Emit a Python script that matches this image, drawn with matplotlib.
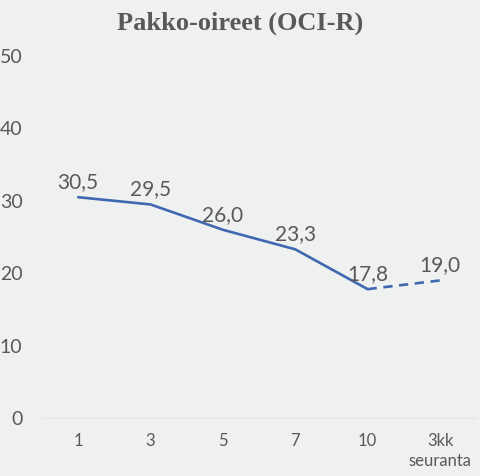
import matplotlib.pyplot as plt

categories = ["1", "3", "5", "7", "10", "3kk\nseuranta"]
values = [30.5, 29.5, 26.0, 23.3, 17.8, 19.0]
y_ticks = [0, 10, 20, 30, 40, 50]

BG = "#eef1f0"
TEXT = "#595959"
LINE = "#4068b0"
FONT = "Lato"

fig = plt.figure(figsize=(4.8, 4.76), dpi=100, facecolor=BG)
ax = fig.add_axes([0.0875, 0.1218, 0.9045, 0.7605], facecolor=BG)

x = list(range(len(categories)))
# solid part for sessions, dashed for the follow-up
ax.plot(x[:-1], values[:-1], color=LINE, linewidth=1.9, solid_capstyle="round")
ax.plot(x[-2:], values[-2:], color=LINE, linewidth=1.9, linestyle=(0, (3.5, 2.5)))

for xi, v in zip(x, values):
    ax.annotate(f"{v:.1f}".replace(".", ","), (xi, v), xytext=(0, 6.5),
                textcoords="offset points", ha="center", va="baseline",
                fontsize=15, color=TEXT, family=FONT)

ax.set_xlim(-0.5, len(categories) - 0.5)
ax.set_ylim(0, 50)
ax.set_xticks(x)
ax.set_xticklabels(categories, fontsize=12, color=TEXT, family=FONT,
                   linespacing=1.3)
ax.set_yticks(y_ticks)
ax.set_yticklabels([str(t) for t in y_ticks], fontsize=14, color=TEXT, family=FONT)
ax.tick_params(length=0)
ax.tick_params(axis="x", pad=11)
ax.tick_params(axis="y", pad=14)
for side in ["top", "right", "left"]:
    ax.spines[side].set_visible(False)
ax.spines["bottom"].set_color("#e2e5e4")
ax.spines["bottom"].set_linewidth(0.8)

fig.text(0.5, 1 - 23 / 476, "Pakko-oireet (OCI-R)", ha="center", va="center",
         fontsize=19, fontweight="bold", color=TEXT, family="Liberation Serif")

fig.savefig("out.png", dpi=100, facecolor=BG)
